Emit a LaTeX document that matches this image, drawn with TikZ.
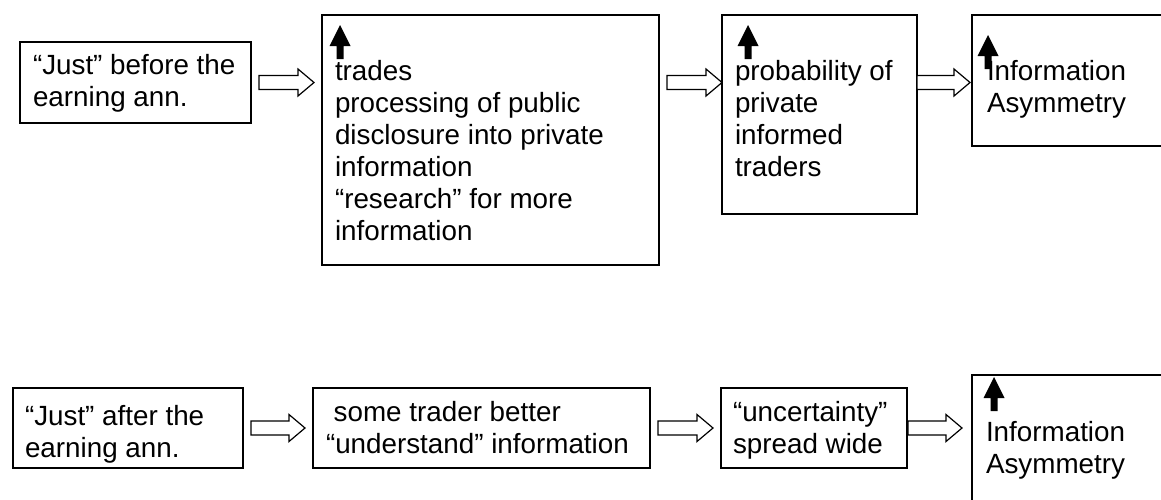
\documentclass[tikz,border=0pt]{standalone}
\usepackage{fontspec}
\setmainfont{Liberation Sans}
\usetikzlibrary{calc}
\newcommand{\stack}[1]{\begin{tabular}[t]{@{}l@{}}#1\end{tabular}}
\tikzset{
  frame/.style={draw=black, line width=1.4pt, inner sep=0pt, outer sep=0pt, anchor=north west},
  txt/.style={inner sep=0pt, outer sep=0pt, anchor=base west, font=\fontsize{27.8}{32}\selectfont},
  pics/blockarrow/.style={code={
    \draw[line width=1.2pt, fill=white, line join=miter]
      (0,-7) -- ({#1-16},-7) -- ({#1-16},-13.5) -- (#1,0) -- ({#1-16},13.5) -- ({#1-16},7) -- (0,7) -- cycle;}},
  pics/uparrow/.style={code={
    \fill[black] (0,0) -- (10.5,21) -- (3.5,21) -- (3.5,34) -- (-3.5,34) -- (-3.5,21) -- (-10.5,21) -- cycle;}},
}
\begin{document}
\begin{tikzpicture}[x=1pt, y=-1pt]
\useasboundingbox (0,0) rectangle (1161,499);
\clip (0,0) rectangle (1161,499);

% upper chain
\node[frame, minimum width=231, minimum height=81]  (b1) at (20,42)  {};
\node[frame, minimum width=337, minimum height=250] (b2) at (322,15) {};
\node[frame, minimum width=195, minimum height=199] (b3) at (722,15) {};
\node[frame, minimum width=230, minimum height=131] (b4) at (972,15) {};

\node[txt] (t1) at (33,74)  {\stack{“Just” before the\\earning ann.}};
\node[txt] (t2) at (335,80) {\stack{trades\\processing of public\\disclosure into private\\information\\“research” for more\\information}};
\node[txt] (t3) at (735,80) {\stack{probability of\\private\\informed\\traders}};
\node[txt] (t4) at (987,80) {\stack{Information\\Asymmetry}};

\pic at ($(b1.east)+(8,0)$) {blockarrow=55};
\pic at ($(b2.east |- b1.east)+(8,0)$) {blockarrow=55};
\pic at (b3.east |- b1.east) {blockarrow=53};

\pic at (340,25) {uparrow};
\pic at (748,25) {uparrow};
\pic at (988,35) {uparrow};

% lower chain
\node[frame, minimum width=230, minimum height=80]  (b5) at (13,388)  {};
\node[frame, minimum width=337, minimum height=80]  (b6) at (313,388) {};
\node[frame, minimum width=186, minimum height=80]  (b7) at (721,388) {};
\node[frame, minimum width=230, minimum height=160] (b8) at (972,375) {};

\node[txt] (t5) at (25,425)  {\stack{“Just” after the\\earning ann.}};
\node[txt] (t6) at (326,421) {\stack{\ some trader better\\“understand” information}};
\node[txt] (t7) at (733,421) {\stack{“uncertainty”\\spread wide}};
\node[txt] (t8) at (986,441) {\stack{Information\\Asymmetry}};

\pic at ($(b5.east)+(8,0)$) {blockarrow=54};
\pic at ($(b6.east)+(8,0)$) {blockarrow=55};
\pic at ($(b7.east)+(1,0)$) {blockarrow=54};

\pic at (994,377) {uparrow};
\end{tikzpicture}
\end{document}
